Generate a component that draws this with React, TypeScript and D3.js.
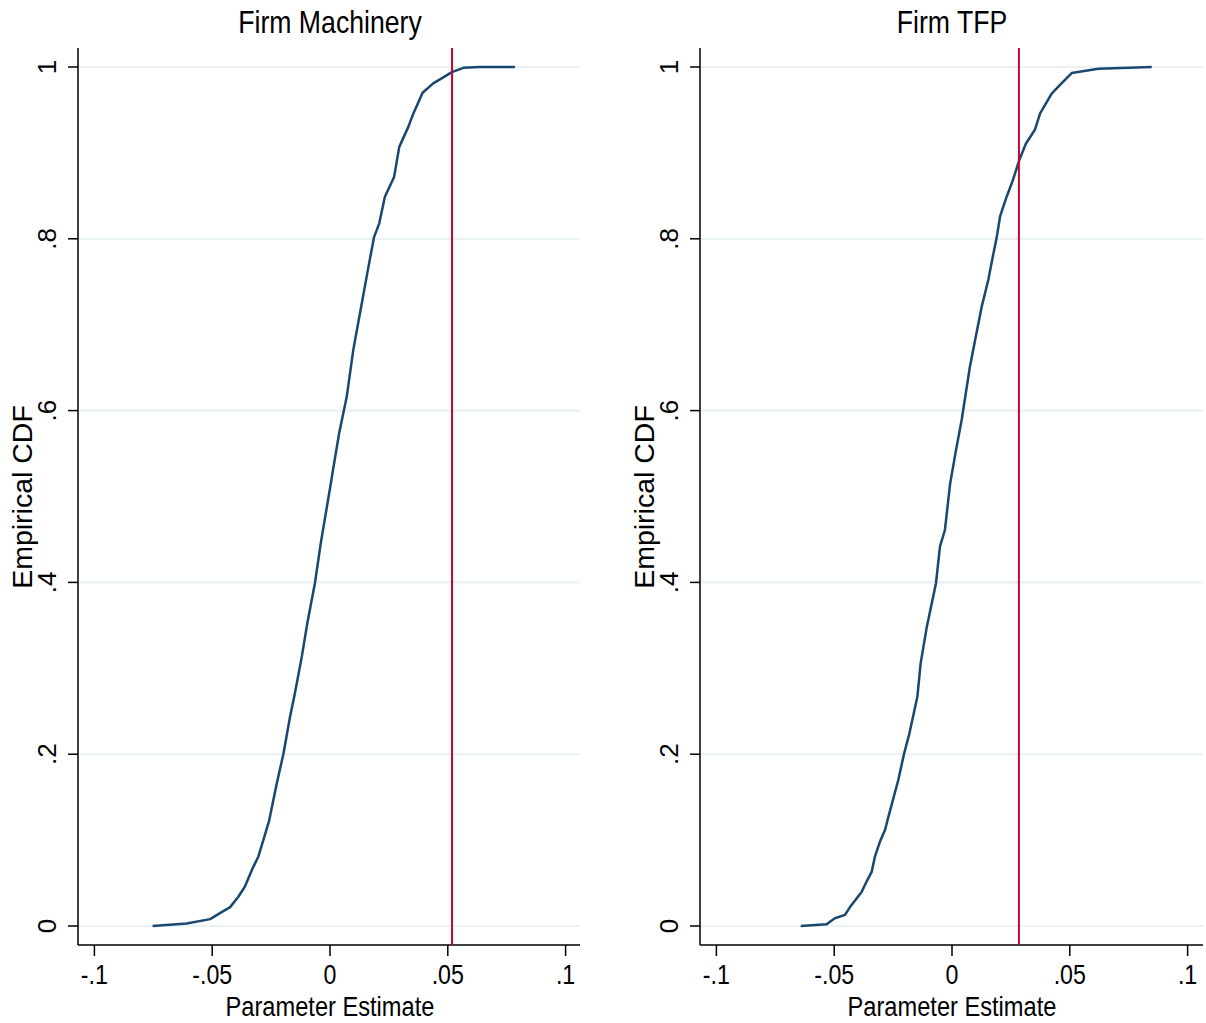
import React from "react";
import * as d3 from "d3";

// ---- Data ----
const machineryX = [-0.0753, -0.0608, -0.0509, -0.0467, -0.0424, -0.0389, -0.0361, -0.0332, -0.0304, -0.0283, -0.0258, -0.0226, -0.0198, -0.017, -0.0149, -0.012, -0.0096, -0.0064, -0.0039, 0.0004, 0.0014, 0.0039, 0.0071, 0.0099, 0.0135, 0.0163, 0.0187, 0.0209, 0.0233, 0.0272, 0.0294, 0.0332, 0.0354, 0.0393, 0.0438, 0.0481, 0.0517, 0.0566, 0.0637, 0.0785];
const machineryF = [0.0, 0.003, 0.008, 0.015, 0.022, 0.034, 0.046, 0.065, 0.081, 0.1, 0.123, 0.166, 0.2, 0.243, 0.271, 0.313, 0.353, 0.399, 0.446, 0.516, 0.533, 0.574, 0.616, 0.671, 0.725, 0.767, 0.802, 0.818, 0.849, 0.872, 0.907, 0.93, 0.946, 0.97, 0.981, 0.988, 0.994, 0.999, 1.0, 1.0];

const tfpX = [-0.0642, -0.0532, -0.0518, -0.0497, -0.0454, -0.0433, -0.0405, -0.0383, -0.0362, -0.0341, -0.0327, -0.0306, -0.0284, -0.027, -0.0228, -0.0204, -0.0181, -0.0147, -0.0133, -0.0107, -0.0068, -0.0051, -0.003, -0.0008, 0.0017, 0.0041, 0.0076, 0.0098, 0.0126, 0.0154, 0.0173, 0.019, 0.0204, 0.0232, 0.0258, 0.0286, 0.0314, 0.0352, 0.0374, 0.0423, 0.0472, 0.0508, 0.0621, 0.0848];
const tfpF = [0.0, 0.002, 0.005, 0.009, 0.013, 0.022, 0.032, 0.04, 0.052, 0.063, 0.081, 0.098, 0.112, 0.127, 0.17, 0.2, 0.224, 0.267, 0.306, 0.348, 0.399, 0.442, 0.461, 0.515, 0.554, 0.589, 0.651, 0.682, 0.721, 0.752, 0.779, 0.802, 0.826, 0.849, 0.868, 0.892, 0.911, 0.927, 0.946, 0.969, 0.983, 0.993, 0.998, 1.0];

const panelTitles = ["Firm Machinery", "Firm TFP"];
const trueValues = [0.0518, 0.0284];
const xTicks = [-0.1, -0.05, 0, 0.05, 0.1];
const xTickLabels = ["-.1", "-.05", "0", ".05", ".1"];
const yTicks = [0, 0.2, 0.4, 0.6, 0.8, 1];
const yTickLabels = ["0", ".2", ".4", ".6", ".8", "1"];
const xAxisTitle = "Parameter Estimate";
const yAxisTitle = "Empirical CDF";

const SX = 0.86; // horizontal squeeze of the horizontal glyphs
const FONT = "'Liberation Sans', Arial, Helvetica, sans-serif";
const LINE = "#1a476f";
const RED = "#c10534";
const GRID = "#eaf2f3";

type PanelProps = {
  left: number;
  right: number;
  title: string;
  xs: number[];
  fs: number[];
  vline: number;
};

function Panel({ left, right, title, xs, fs, vline }: PanelProps) {
  const top = 48;
  const bottom = 945;
  const zeroPx = left + 252;
  const unit = 2356;
  const x = d3
    .scaleLinear()
    .domain([(left - zeroPx) / unit, (right - zeroPx) / unit])
    .range([left, right]);
  const y = d3
    .scaleLinear()
    .domain([(926 - bottom) / 859, (926 - top) / 859])
    .range([bottom, top]);
  const pts: [number, number][] = xs.map((v, i) => [v, fs[i]]);
  const line = d3
    .line<[number, number]>()
    .x((d) => x(d[0]))
    .y((d) => y(d[1]))
    .curve(d3.curveLinear);
  const cx = x(0);
  return (
    <g>
      {/* gridlines */}
      {yTicks.map((t) => (
        <line key={"g" + t} x1={left} x2={right} y1={y(t)} y2={y(t)} stroke={GRID} strokeWidth={2.2} />
      ))}
      {/* axes */}
      <line x1={left} x2={left} y1={top} y2={bottom} stroke="#000" strokeWidth={1.5} />
      <line x1={left} x2={right} y1={bottom} y2={bottom} stroke="#000" strokeWidth={1.5} />
      {/* y ticks */}
      {yTicks.map((t, i) => (
        <g key={"yt" + t}>
          <line x1={left - 10} x2={left} y1={y(t)} y2={y(t)} stroke="#000" strokeWidth={1.5} />
          <text
            transform={`translate(${left - 22},${y(t)}) rotate(-90)`}
            textAnchor="middle"
            fontFamily={FONT}
            fontSize={26}
            fill="#000"
          >
            {yTickLabels[i]}
          </text>
        </g>
      ))}
      {/* x ticks */}
      {xTicks.map((t, i) => (
        <g key={"xt" + t}>
          <line x1={x(t)} x2={x(t)} y1={bottom} y2={bottom + 11} stroke="#000" strokeWidth={1.5} />
          <text
            transform={`translate(${x(t)},${984}) scale(${SX},1)`}
            textAnchor="middle"
            fontFamily={FONT}
            fontSize={27}
            fill="#000"
          >
            {xTickLabels[i]}
          </text>
        </g>
      ))}
      {/* axis titles */}
      <text
        transform={`translate(${cx},${1016}) scale(${SX},1)`}
        textAnchor="middle"
        fontFamily={FONT}
        fontSize={27.5}
        fill="#000"
      >
        {xAxisTitle}
      </text>
      <text
        transform={`translate(${left - 46},${497}) rotate(-90)`}
        textAnchor="middle"
        fontFamily={FONT}
        fontSize={28.5}
        fill="#000"
      >
        {yAxisTitle}
      </text>
      {/* title */}
      <text
        transform={`translate(${cx},${33}) scale(${SX},1)`}
        textAnchor="middle"
        fontFamily={FONT}
        fontSize={31}
        fill="#000"
      >
        {title}
      </text>
      {/* ECDF */}
      <path d={line(pts) || ""} fill="none" stroke={LINE} strokeWidth={2.5} strokeLinejoin="round" />
      {/* reference line */}
      <line x1={x(vline)} x2={x(vline)} y1={top} y2={bottom} stroke={RED} strokeWidth={2} />
    </g>
  );
}

export default function App() {
  return (
    <svg
      width={1206}
      height={1023}
      style={{ position: "absolute", left: 0, top: 0, background: "#fff", display: "block" }}
    >
      <rect width={1206} height={1023} fill="#fff" />
      <Panel left={78} right={580} title={panelTitles[0]} xs={machineryX} fs={machineryF} vline={trueValues[0]} />
      <Panel left={700} right={1203} title={panelTitles[1]} xs={tfpX} fs={tfpF} vline={trueValues[1]} />
    </svg>
  );
}
